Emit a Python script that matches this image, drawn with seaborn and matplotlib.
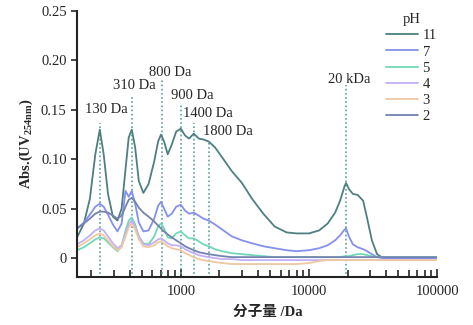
import pandas as pd
import matplotlib
matplotlib.use("Agg")
import matplotlib.pyplot as plt
import matplotlib.ticker as mticker
import seaborn as sns

# molecular weight grid (Da)
mw = [155, 175, 195, 215, 233, 250, 270, 295, 320, 345, 370, 392, 414, 440, 470,
      510, 560, 620, 665, 700, 740, 790, 850, 920, 1000, 1080, 1160, 1263, 1380,
      1500, 1650, 1850, 2100, 2500, 3000, 3600, 4400, 5400, 6700, 8000, 10000,
      12000, 14000, 16000, 17500, 19000, 19500, 20500, 22000, 24000, 26500, 28500,
      31000, 34000, 38000, 50000, 70000, 100000]

ph11 = [0.021, 0.035, 0.060, 0.105, 0.130, 0.105, 0.065, 0.042, 0.038, 0.050, 0.090,
        0.122, 0.130, 0.112, 0.078, 0.066, 0.075, 0.098, 0.118, 0.125, 0.118, 0.105,
        0.115, 0.128, 0.131, 0.124, 0.121, 0.126, 0.121, 0.120, 0.118, 0.112, 0.102,
        0.088, 0.076, 0.060, 0.045, 0.032, 0.026, 0.025, 0.025, 0.028, 0.035, 0.046,
        0.058, 0.073, 0.076, 0.070, 0.065, 0.064, 0.058, 0.040, 0.018, 0.004, 0.000,
        0.000, 0.000, 0.000]
ph7 = [0.030, 0.036, 0.044, 0.052, 0.055, 0.052, 0.044, 0.034, 0.027, 0.035, 0.068,
       0.062, 0.068, 0.055, 0.036, 0.027, 0.028, 0.040, 0.053, 0.057, 0.050, 0.042,
       0.045, 0.052, 0.054, 0.048, 0.045, 0.046, 0.043, 0.040, 0.038, 0.034, 0.029,
       0.022, 0.018, 0.015, 0.012, 0.010, 0.008, 0.007, 0.008, 0.010, 0.013, 0.018,
       0.023, 0.029, 0.030, 0.022, 0.014, 0.011, 0.009, 0.007, 0.004, 0.001, 0.000,
       0.000, 0.000, 0.000]
ph5 = [0.008, 0.011, 0.015, 0.019, 0.021, 0.020, 0.016, 0.011, 0.007, 0.012, 0.028,
       0.038, 0.041, 0.034, 0.022, 0.015, 0.014, 0.022, 0.032, 0.035, 0.030, 0.021,
       0.020, 0.025, 0.027, 0.023, 0.020, 0.020, 0.017, 0.014, 0.012, 0.009, 0.007,
       0.005, 0.004, 0.003, 0.002, 0.001, 0.001, 0.001, 0.001, 0.001, 0.001, 0.001,
       0.001, 0.002, 0.002, 0.002, 0.003, 0.004, 0.004, 0.003, 0.002, 0.001, 0.001,
       0.001, 0.001, 0.001]
ph4 = [0.014, 0.018, 0.023, 0.028, 0.030, 0.028, 0.022, 0.015, 0.010, 0.013, 0.025,
       0.034, 0.038, 0.032, 0.022, 0.014, 0.013, 0.016, 0.019, 0.020, 0.018, 0.015,
       0.013, 0.013, 0.012, 0.009, 0.007, 0.005, 0.003, 0.002, 0.001, 0.000, -0.001,
       -0.001, -0.002, -0.002, -0.002, -0.002, -0.002, -0.002, -0.002, -0.002, -0.002,
       -0.002, -0.002, -0.002, -0.002, -0.002, -0.002, -0.002, -0.002, -0.002, -0.002,
       -0.002, -0.002, -0.002, -0.002, -0.002]
ph3 = [0.011, 0.015, 0.019, 0.023, 0.025, 0.023, 0.018, 0.012, 0.008, 0.011, 0.022,
       0.031, 0.035, 0.029, 0.019, 0.012, 0.011, 0.013, 0.016, 0.017, 0.015, 0.012,
       0.010, 0.009, 0.008, 0.005, 0.003, 0.001, -0.001, -0.002, -0.003, -0.004, -0.005,
       -0.006, -0.006, -0.006, -0.006, -0.006, -0.006, -0.006, -0.005, -0.003, -0.002,
       -0.002, -0.002, -0.002, -0.002, -0.002, -0.002, -0.002, -0.002, -0.002, -0.002,
       -0.002, -0.002, -0.002, -0.002, -0.002]
ph2 = [0.030, 0.035, 0.040, 0.045, 0.047, 0.047, 0.046, 0.043, 0.040, 0.043, 0.052,
       0.059, 0.061, 0.057, 0.051, 0.046, 0.042, 0.037, 0.033, 0.030, 0.027, 0.024,
       0.021, 0.018, 0.015, 0.012, 0.010, 0.008, 0.006, 0.005, 0.004, 0.003, 0.002,
       0.001, 0.001, 0.001, 0.001, 0.001, 0.001, 0.001, 0.001, 0.001, 0.001, 0.001,
       0.001, 0.001, 0.001, 0.001, 0.001, 0.001, 0.001, 0.001, 0.001, 0.001, 0.001,
       0.001, 0.001, 0.001]

ph_labels = ["11", "7", "5", "4", "3", "2"]
ph_colors = ["#4f7f80", "#8590ec", "#70d8b8", "#c4b0f4", "#eec8a0", "#7482b0"]

# marked peaks: label, line position (Da), line top, label x (Da), label y
peak_names = ["130 Da", "310 Da", "800 Da", "900 Da", "1400 Da", "1800 Da", "20 kDa"]
peak_pos = [233, 414, 710, 1000, 1263, 1650, 19500]
peak_top = [0.137, 0.165, 0.180, 0.157, 0.137, 0.119, 0.175]
label_x = [178, 294, 563, 835, 1036, 1485, 14100]
label_y = [0.150, 0.175, 0.188, 0.165, 0.146, 0.128, 0.181]

df = pd.concat([pd.DataFrame({"mw": mw, "abs": v, "pH": lab})
                for lab, v in zip(ph_labels, [ph11, ph7, ph5, ph4, ph3, ph2])])

sns.set_style("ticks")
plt.rcParams["font.family"] = ["Liberation Serif", "Noto Sans CJK SC"]
plt.rcParams["mathtext.fontset"] = "custom"
plt.rcParams["mathtext.rm"] = "Liberation Serif"
plt.rcParams["mathtext.bf"] = "Liberation Serif:bold"

fig = plt.figure(figsize=(4.73, 3.25), dpi=100)
ax = fig.add_axes([0.163, 0.148, 0.761, 0.818])

for x, top in zip(peak_pos, peak_top):
    ax.vlines(x, -0.02, top, colors="#5f9ea0", linestyles=(0, (1, 1.5)), lw=1.2, zorder=1)

sns.lineplot(data=df, x="mw", y="abs", hue="pH", hue_order=ph_labels,
             palette=dict(zip(ph_labels, ph_colors)), lw=1.3, ax=ax, zorder=2)

for name, x, y in zip(peak_names, label_x, label_y):
    ax.text(x, y, name, fontsize=10.5, ha="left", va="center")

ax.set_xscale("log")
ax.set_xlim(155, 100000)
ax.set_ylim(-0.019, 0.25)
ax.set_yticks([0, 0.05, 0.10, 0.15, 0.20, 0.25])
ax.set_yticklabels(["0", "0.05", "0.10", "0.15", "0.20", "0.25"])
ax.xaxis.set_major_locator(mticker.FixedLocator([1000, 10000, 100000]))
ax.xaxis.set_major_formatter(mticker.FixedFormatter(["1000", "10000", "100000"]))
ax.xaxis.set_minor_locator(mticker.LogLocator(base=10, subs=range(2, 10)))
ax.xaxis.set_minor_formatter(mticker.NullFormatter())
ax.tick_params(axis="x", which="both", direction="in", width=1.2, labelsize=10.5, pad=6)
ax.tick_params(axis="x", which="major", length=6)
ax.tick_params(axis="x", which="minor", length=5)
ax.tick_params(axis="y", direction="out", length=4, width=1.2, labelsize=10.5)
for s in ["top", "right"]:
    ax.spines[s].set_visible(False)
for s in ["left", "bottom"]:
    ax.spines[s].set_linewidth(1.5)
    ax.spines[s].set_color("#222222")

ax.set_xlabel("分子量 /Da", fontsize=10.5, fontweight="bold", x=0.53, labelpad=5)
ax.set_ylabel(r"Abs.(UV$_{\mathbf{254nm}}$)", fontsize=10.5, fontweight="bold", labelpad=4)

leg = ax.legend(title="pH", loc="upper left", bbox_to_anchor=(0.83, 1.03), frameon=False,
                fontsize=10.5, title_fontsize=10.5, handlelength=2.2, handletextpad=0.3,
                labelspacing=0.2, borderpad=0.2)

fig.savefig("out.png", dpi=100)
